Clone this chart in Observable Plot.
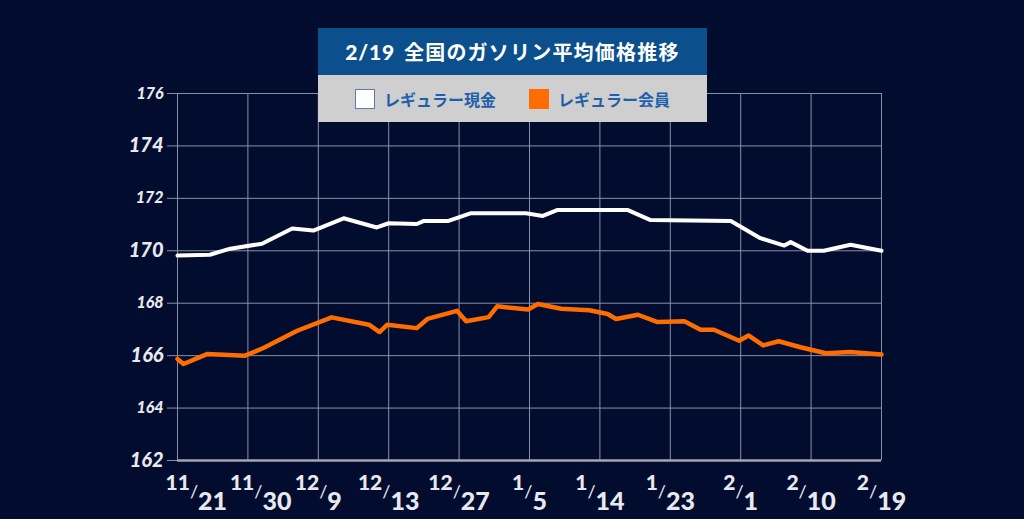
<!DOCTYPE html>
<html><head><meta charset="utf-8">
<script src="https://cdn.jsdelivr.net/npm/d3@7"></script>
<script src="https://cdn.jsdelivr.net/npm/@observablehq/plot@0.6"></script>
<style>
html,body{margin:0;padding:0;background:#010c2f;}
#wrap{position:relative;width:1024px;height:519px;overflow:hidden;background:#010c2f;}
#wrap svg{position:absolute;left:0;top:0;}
#box{position:absolute;left:318px;top:28px;width:389px;}
#hdr{height:47px;background:#0b4f8c;color:#fff;font-family:"Noto Sans CJK JP",sans-serif;font-weight:700;font-size:20px;letter-spacing:1.2px;display:flex;align-items:center;justify-content:center;}
#hdr .d{font-family:Lato,sans-serif;font-weight:900;font-size:21px;margin-right:9px;letter-spacing:0.8px;}
#leg{height:47px;background:#cfcfcf;display:flex;align-items:center;justify-content:center;gap:33px;font-family:"Noto Sans CJK JP",sans-serif;font-weight:700;font-size:16px;color:#1f5fab;}
#leg .it{display:flex;align-items:center;}
#leg .sw{width:18px;height:18px;margin-right:9px;box-sizing:content-box;}
</style>
</head><body>
<div id="wrap"></div>
<script>
const title = "全国のガソリン平均価格推移";
const titleDate = "2/19";
const seriesNames = ["レギュラー現金", "レギュラー会員"];
const seriesColors = ["#ffffff", "#ff6c00"];
const tickLabels = ["11/21","11/30","12/9","12/13","12/27","1/5","1/14","1/23","2/1","2/10","2/19"];
const tickPos = [0,1,2,3,4,5,6,7,8,9,10];
const yTicksSmall = [176,172,168,164];
const yTicksLarge = [174,170,166,162];

// レギュラー現金 (position along x ticks, price)
const cashX = [0,0.46,0.75,1.2,1.63,1.93,2.36,2.83,3.0,3.4,3.5,3.85,4.16,4.95,5.19,5.4,6.39,6.72,7.86,8.28,8.62,8.71,8.95,9.18,9.56,10];
const cashY = [169.82,169.85,170.08,170.27,170.85,170.77,171.24,170.89,171.05,171.02,171.14,171.14,171.43,171.43,171.33,171.56,171.56,171.17,171.14,170.48,170.2,170.33,170.0,170.0,170.23,170.0];
// レギュラー会員
const memberX = [0,0.085,0.42,0.96,1.22,1.7,2.19,2.72,2.87,2.98,3.4,3.55,3.97,4.1,4.42,4.54,4.98,5.12,5.45,5.85,6.11,6.23,6.54,6.82,7.2,7.43,7.62,7.98,8.11,8.32,8.54,8.85,9.21,9.56,10];
const memberY = [165.87,165.68,166.06,166.0,166.29,166.95,167.46,167.18,166.9,167.18,167.05,167.4,167.71,167.31,167.47,167.88,167.76,167.97,167.79,167.73,167.59,167.4,167.56,167.28,167.31,166.99,166.99,166.57,166.77,166.39,166.55,166.32,166.09,166.14,166.04];

const cash = cashX.map((x,i)=>({x, y:cashY[i]}));
const member = memberX.map((x,i)=>({x, y:memberY[i]}));

const gridColor = "#8a90a3";
const textColor = "#e8e9ee";

const chart = Plot.plot({
  width:1024, height:519,
  marginLeft:177, marginRight:143, marginTop:93, marginBottom:59,
  x:{domain:[0,10], axis:null},
  y:{domain:[162,176], axis:null},
  style:{background:"transparent", color:textColor, fontFamily:"Lato, sans-serif", overflow:"visible"},
  marks:[
    Plot.gridX(tickPos, {stroke:gridColor, strokeOpacity:1, strokeWidth:1}),
    Plot.gridY([...yTicksSmall, ...yTicksLarge], {stroke:gridColor, strokeOpacity:1, strokeWidth:1}),
    Plot.axisY(yTicksSmall, {label:null, tickSize:10, tickPadding:4, fontSize:16, fontWeight:900, fontStyle:"italic", stroke:gridColor, fill:textColor, tickFormat:d=>String(d)}),
    Plot.axisY(yTicksLarge, {label:null, tickSize:10, tickPadding:4, fontSize:20, fontWeight:900, fontStyle:"italic", stroke:gridColor, fill:textColor, tickFormat:d=>String(d)}),
    Plot.ruleY([162], {stroke:"#a3a6ae", strokeWidth:2.5}),
    Plot.line(member, {x:"x", y:"y", stroke:seriesColors[1], strokeWidth:4.5, strokeLinejoin:"round"}),
    Plot.line(cash, {x:"x", y:"y", stroke:seriesColors[0], strokeWidth:4, strokeLinejoin:"round"}),
    Plot.text(tickLabels, {x:tickPos, frameAnchor:"bottom", text:d=>d, textAnchor:"middle", dy:29, fontSize:21, fontWeight:900, fill:textColor})
  ]
});

document.getElementById("wrap").appendChild(chart);

// fraction-style date labels (first two start-anchored as in the source)
const startShift = {"11/21": -12, "11/30": -18};
d3.select(chart).selectAll("text").each(function(){
  const s = this.textContent;
  if (!/^\d+\/\d+$/.test(s)) return;
  const [num, den] = s.split("/");
  const t = d3.select(this);
  t.attr("dy", null).text("");
  const sh = startShift[s];
  if (sh !== undefined) t.attr("text-anchor", "start");
  t.append("tspan").attr("font-size", 21).attr("dx", sh !== undefined ? sh : 0).text(num);
  t.append("tspan").attr("font-size", 18).attr("font-weight", 400).attr("dy", 8).text("/");
  t.append("tspan").attr("font-size", 25).attr("dy", 12).text(den);
});

// title box and legend
const box = document.createElement("div");
box.id = "box";
box.innerHTML = `<div id="hdr"><span class="d">${titleDate}</span><span>${title}</span></div>
<div id="leg">
 <div class="it"><div class="sw" style="background:${seriesColors[0]};border:1px solid #5b7fa8"></div><span>${seriesNames[0]}</span></div>
 <div class="it"><div class="sw" style="background:${seriesColors[1]};border:1px solid ${seriesColors[1]}"></div><span>${seriesNames[1]}</span></div>
</div>`;
document.getElementById("wrap").appendChild(box);
</script>
</body></html>
